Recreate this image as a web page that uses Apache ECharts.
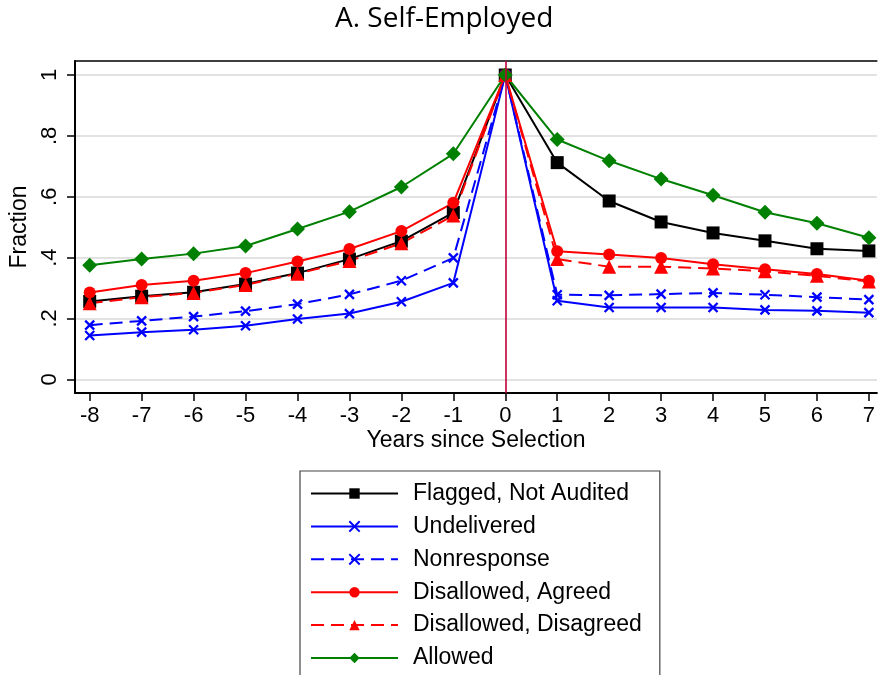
<!DOCTYPE html>
<html>
<head>
<meta charset="utf-8">
<script src="https://cdn.jsdelivr.net/npm/echarts@6/dist/echarts.min.js"></script>
<style>html,body{margin:0;padding:0;background:#fff;}#main{width:878px;height:675px;}</style>
</head>
<body>
<div id="main"></div>
<script>
var years = [-8,-7,-6,-5,-4,-3,-2,-1,0,1,2,3,4,5,6,7];
var yTicks = [0, 0.2, 0.4, 0.6, 0.8, 1];
var yTickLabels = ['0', '.2', '.4', '.6', '.8', '1'];
var flagged    = [0.256,0.273,0.286,0.313,0.349,0.395,0.454,0.548,1,0.712,0.586,0.517,0.481,0.455,0.429,0.422];
var undelivered= [0.144,0.155,0.163,0.176,0.198,0.216,0.255,0.317,1,0.258,0.236,0.236,0.236,0.228,0.225,0.219];
var nonresponse= [0.178,0.192,0.206,0.224,0.247,0.279,0.324,0.399,1,0.278,0.276,0.280,0.284,0.278,0.270,0.262];
var agreed     = [0.285,0.310,0.324,0.349,0.387,0.428,0.487,0.580,1,0.421,0.410,0.399,0.378,0.362,0.346,0.324];
var disagreed  = [0.250,0.270,0.284,0.310,0.347,0.389,0.447,0.538,1,0.395,0.370,0.370,0.364,0.355,0.340,0.321];
var allowed    = [0.375,0.395,0.413,0.438,0.494,0.551,0.632,0.741,1,0.788,0.718,0.658,0.605,0.549,0.513,0.465];
var names = ['Flagged, Not Audited','Undelivered','Nonresponse','Disallowed, Agreed','Disallowed, Disagreed','Allowed'];

function pairs(arr){ return years.map(function(y,i){ return [y, arr[i]]; }); }
var xPath = 'path://M0,0L10,10M10,0L0,10';

function mk(name, data, color, symbol, size, dashed, extra){
  var s = {
    name: name, type: 'line', data: pairs(data),
    symbol: symbol, symbolSize: size,
    lineStyle: {color: color, width: 2, type: dashed ? [13,7] : 'solid'},
    itemStyle: {color: color},
    emphasis: {disabled: true},
    animation: false
  };
  if (symbol === xPath) { s.itemStyle = {color: color, borderColor: color, borderWidth: 2.3}; }
  if (extra) { for (var k in extra) s[k] = extra[k]; }
  return s;
}

var chart = echarts.init(document.getElementById('main'));
chart.setOption({
  animation: false,
  backgroundColor: '#fff',
  title: {
    text: 'A. Self-Employed', left: 330, top: 0,
    textStyle: {fontFamily: 'Open Sans', fontSize: 28, fontWeight: 'normal', color: '#000'}
  },
  grid: {left: 75, top: 61, right: 0, bottom: 282, show: false},
  xAxis: [{
    type: 'value', min: -8.283, max: 7.154,
    name: 'Years since Selection', nameLocation: 'middle', nameGap: 36,
    nameTextStyle: {fontFamily: 'Liberation Sans', fontSize: 23, color: '#000'},
    axisLine: {show: true, onZero: false, lineStyle: {color: '#000', width: 2}},
    axisTick: {show: true, length: 8, customValues: years, lineStyle: {color: '#000', width: 1.5}},
    axisLabel: {customValues: years, fontFamily: 'Liberation Sans', fontSize: 22, color: '#000', margin: 12},
    splitLine: {show: false}
  }, {
    type: 'value', min: -8.283, max: 7.154, position: 'top',
    axisLine: {show: true, onZero: false, lineStyle: {color: '#000', width: 1.5}},
    axisTick: {show: false}, axisLabel: {show: false}, splitLine: {show: false}
  }],
  yAxis: {
    type: 'value', min: -0.045, max: 1.046,
    name: 'Fraction', nameLocation: 'middle', nameGap: 44,
    nameTextStyle: {fontFamily: 'Liberation Sans', fontSize: 23, color: '#000'},
    axisLine: {show: true, onZero: false, lineStyle: {color: '#000', width: 2}},
    axisTick: {show: true, length: 8, customValues: yTicks, lineStyle: {color: '#000', width: 1.5}},
    axisLabel: {
      customValues: yTicks, rotate: 90, fontFamily: 'Liberation Sans', fontSize: 22, color: '#000', margin: 14,
      formatter: function(v){ var i = yTicks.indexOf(Math.round(v*10)/10); return i >= 0 ? yTickLabels[i] : ''; }
    },
    splitLine: {show: true, lineStyle: {color: '#e2e2e2', width: 2}}
  },
  legend: {
    orient: 'vertical', left: 300, top: 471, height: 260,
    padding: [11, 18, 12, 10],
    borderColor: '#444', borderWidth: 1.2,
    itemWidth: 87, itemHeight: 13, itemGap: 9.9,
    textStyle: {fontFamily: 'Liberation Sans', fontSize: 23, color: '#000', lineHeight: 20, padding: [0,0,0,10]},
    data: names
  },
  series: [
    mk(names[0], flagged, '#000000', 'rect', 13, false, {
      markLine: {silent: true, symbol: 'none', label: {show: false},
        lineStyle: {color: '#c0003c', width: 1.6, type: 'solid'},
        data: [{xAxis: 0}]}
    }),
    mk(names[1], undelivered, '#0000ff', xPath, 9, false),
    mk(names[2], nonresponse, '#0000ff', xPath, 9, true),
    mk(names[3], agreed, '#ff0000', 'circle', 12, false),
    mk(names[4], disagreed, '#ff0000', 'triangle', 14, true),
    mk(names[5], allowed, '#008000', 'diamond', 15, false)
  ]
});
</script>
</body>
</html>
